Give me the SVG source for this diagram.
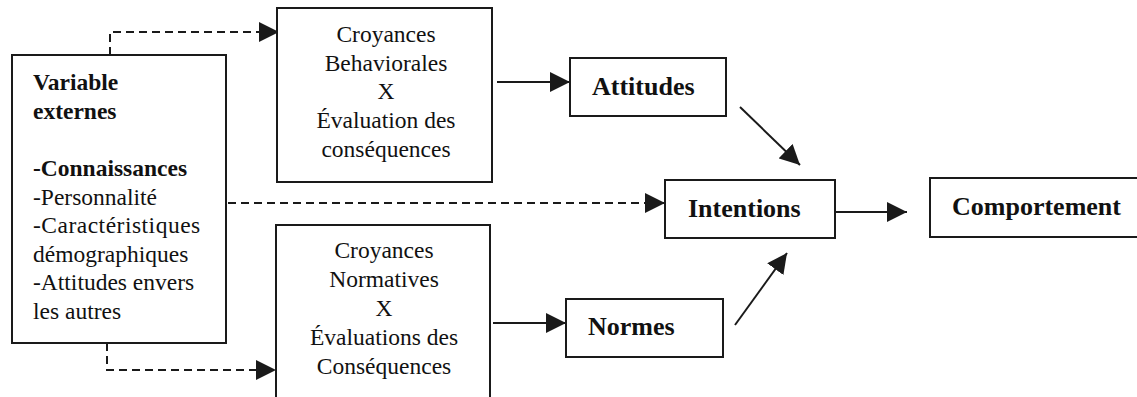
<svg xmlns="http://www.w3.org/2000/svg" width="1137" height="397" viewBox="0 0 1137 397">
<style>
.box{fill:#fff;stroke:#1a1a1a;stroke-width:2}
.t{font-size:23.5px;fill:#111}
.b{font-size:23.5px;font-weight:bold;fill:#111}
.lb{font-size:26px;font-weight:bold;fill:#111}
.c{text-anchor:middle}
.s{fill:none;stroke:#1a1a1a;stroke-width:2}
.d{fill:none;stroke:#1a1a1a;stroke-width:2;stroke-dasharray:8 5}
</style>
<defs>
<marker id="ah" markerUnits="userSpaceOnUse" markerWidth="21" markerHeight="20" refX="20" refY="10" orient="auto">
<path d="M0,0 L20,10 L0,20 z" fill="#1a1a1a"/>
</marker>
</defs>
<rect width="1137" height="397" fill="#fff"/>
<g id="connectors">
<path class="d" d="M110,55 V32 H279" marker-end="url(#ah)"/>
<path class="d" d="M107,343 V370 H276" marker-end="url(#ah)"/>
<path class="d" d="M228,203 H665" marker-end="url(#ah)"/>
<path class="s" d="M497,82 H570" marker-end="url(#ah)"/>
<path class="s" d="M493,323 H566" marker-end="url(#ah)"/>
<path class="s" d="M835,212 H907" marker-end="url(#ah)"/>
<path class="s" d="M740,107 L800,165" marker-end="url(#ah)"/>
<path class="s" d="M735,325 L787,253" marker-end="url(#ah)"/>
</g>
<g font-family="Liberation Serif, Tinos, Times New Roman, DejaVu Serif, serif">
<g id="variables">
<rect class="box" x="12" y="55" width="214" height="288"/>
<text class="b" x="33" y="90">Variable</text>
<text class="b" x="33" y="118.6">externes</text>
<text class="b" x="33" y="176">-Connaissances</text>
<text class="t" x="33" y="204.5">-Personnalité</text>
<text class="t" x="33" y="233" letter-spacing="0.5">-Caractéristiques</text>
<text class="t" x="33" y="261.6">démographiques</text>
<text class="t" x="33" y="290.2">-Attitudes envers</text>
<text class="t" x="33" y="318.8">les autres</text>
</g>
<g id="croyances-behaviorales">
<rect class="box" x="277" y="8" width="215" height="174"/>
<text class="t c" x="386" y="42">Croyances</text>
<text class="t c" x="386" y="70.7">Behaviorales</text>
<text class="t c" x="386" y="99.4">X</text>
<text class="t c" x="386" y="128">Évaluation des</text>
<text class="t c" x="386" y="156.8">conséquences</text>
</g>
<g id="croyances-normatives">
<rect class="box" x="276" y="225" width="214" height="190"/>
<text class="t c" x="384" y="258">Croyances</text>
<text class="t c" x="384" y="287">Normatives</text>
<text class="t c" x="384" y="316">X</text>
<text class="t c" x="384" y="345">Évaluations des</text>
<text class="t c" x="384" y="374">Conséquences</text>
</g>
<g id="attitudes">
<rect class="box" x="570" y="58" width="156" height="58"/>
<text class="lb" x="592" y="95">Attitudes</text>
</g>
<g id="normes">
<rect class="box" x="566" y="299" width="157" height="58"/>
<text class="lb" x="588" y="335">Normes</text>
</g>
<g id="intentions">
<rect class="box" x="665" y="180" width="170" height="58"/>
<text class="lb" x="688" y="217">Intentions</text>
</g>
<g id="comportement">
<rect class="box" x="930" y="178" width="215" height="59"/>
<text class="lb" x="952" y="215">Comportement</text>
</g>
</g>
</svg>
